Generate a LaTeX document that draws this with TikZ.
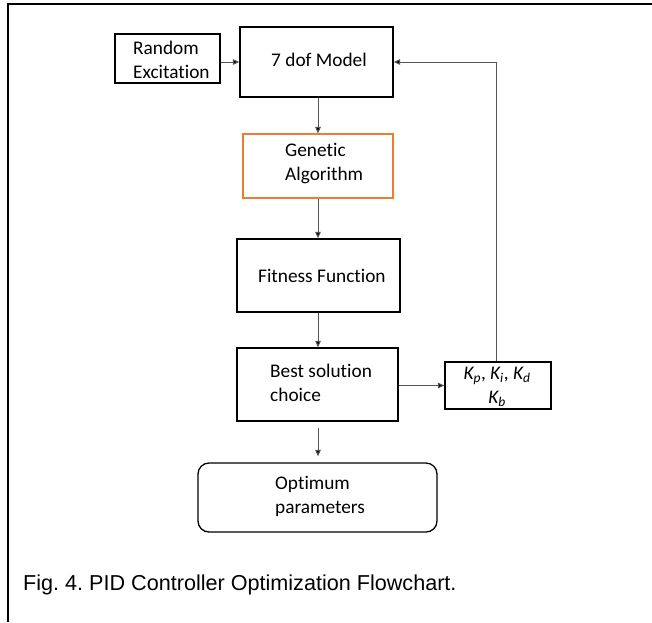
\documentclass[tikz,border=0pt]{standalone}
\usepackage{fontspec}
\setmainfont{Carlito}[Ligatures=NoCommon]
\newfontfamily\capfont{Liberation Sans}
\usetikzlibrary{arrows.meta}
\frenchspacing
\definecolor{linegray}{HTML}{555555}
\definecolor{gaorange}{HTML}{ED7D31}
\newcommand{\Kx}[1]{\textit{K\textsubscript{#1}}}
\tikzset{
  x=1pt, y=1pt,
  boxshape/.style={draw=black, line width=1.3pt, rectangle, inner sep=0pt},
  boxtext/.style={inner sep=0pt, align=left, font=\fontsize{19.3}{24}\selectfont},
  flow/.style={draw=linegray, line width=1pt, -{Triangle[length=6.5pt,width=5.5pt,fill=black]}},
}
\begin{document}
\begin{tikzpicture}
\useasboundingbox (0,0) rectangle (652,-622);
\fill[white] (0,0) rectangle (652,-622);

% page frame
\draw[line width=1.5pt] (8,-622) -- (8,-4) -- (652,-4);

% blocks
\node[boxshape, minimum width=105pt, minimum height=49pt] (rand) at (167.5,-58.5) {};
\node[boxshape, minimum width=153pt, minimum height=70pt] (model) at (316.5,-62) {};
\node[boxshape, draw=gaorange, line width=1.1pt, minimum width=150pt, minimum height=64pt] (ga) at (318,-166) {};
\node[boxshape, minimum width=163pt, minimum height=73pt] (fit) at (318.5,-275.5) {};
\node[boxshape, minimum width=161pt, minimum height=73pt] (best) at (317.5,-384.5) {};
\node[boxshape, minimum width=106pt, minimum height=47pt] (kp) at (498,-385.5) {};
\node[boxshape, rounded corners=11pt, minimum width=239pt, minimum height=69pt] (opt) at (317.5,-497.5) {};

% labels
\node[boxtext, anchor=west] (randt) at (133,-60) {Random\\Excitation};
\node[boxtext] (modelt) at (319,-60) {7 dof Model};
\node[boxtext, anchor=west] (gat) at (285,-164) {Genetic\\Algorithm};
\node[boxtext, anchor=west] (fitt) at (258,-276) {Fitness Function};
\node[boxtext, anchor=west] (bestt) at (270,-383) {Best solution\\choice};
\node[boxtext, align=center] (kpt) at (497,-387) {\Kx{p}, \Kx{i}, \Kx{d}\\\Kx{b}};
\node[boxtext, anchor=west] (optt) at (275,-496) {Optimum\\parameters};

% connectors
\draw[flow] (rand.east |- model.west) -- (model.west);
\draw[flow] (model.south -| ga.north) -- (ga.north);
\draw[flow] (ga.south) -- (ga.south |- fit.north);
\draw[flow] (fit.south -| ga.south) -- (ga.south |- best.north);
\draw[flow, shorten <=6pt, shorten >=6pt] (best.south -| ga.south) -- (ga.south |- opt.north);
\draw[flow] (best.east |- kp.west) -- (kp.west);
\draw[flow] (kp.north -| 496,0) |- (model.east);

% caption
\node[inner sep=0pt, anchor=west, font=\capfont\fontsize{21.6}{24}\selectfont] (cap) at (23,-585) {Fig. 4. PID Controller Optimization Flowchart.};
\end{tikzpicture}
\end{document}
